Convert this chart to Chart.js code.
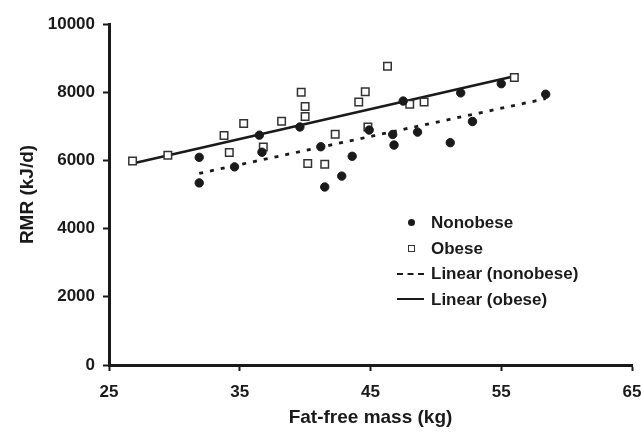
<!DOCTYPE html>
<html>
<head>
<meta charset="utf-8">
<script src="https://cdn.jsdelivr.net/npm/chart.js@4/dist/chart.umd.min.js"></script>
<style>
  html, body { margin: 0; padding: 0; background: #fff; }
  #wrap { position: relative; width: 641px; height: 432px; }
  #legend { position: absolute; left: 392px; top: 210px; font-family: "Liberation Sans", Arial, sans-serif; font-weight: bold; font-size: 17px; color: #1a1a1a; }
  .row { position: relative; height: 25.5px; line-height: 25.5px; padding-left: 39px; white-space: nowrap; }
  .mk { position: absolute; top: 50%; }
  .dot { left: 16px; width: 7px; height: 7px; margin-top: -3.5px; border-radius: 50%; background: #1a1a1a; }
  .sq { left: 16px; width: 5px; height: 5px; margin-top: -3.5px; border: 1.2px solid #333; background: #fff; }
  .dash { left: 5px; width: 27px; margin-top: -1px; border-top: 2.5px dashed #1a1a1a; }
  .solid { left: 5px; width: 27px; margin-top: -1px; border-top: 2.5px solid #1a1a1a; }
</style>
</head>
<body>
<div id="wrap">
  <canvas id="c" width="641" height="432"></canvas>
  <div id="legend">
    <div class="row"><span class="mk dot"></span>Nonobese</div>
    <div class="row"><span class="mk sq"></span>Obese</div>
    <div class="row"><span class="mk dash"></span>Linear (nonobese)</div>
    <div class="row"><span class="mk solid"></span>Linear (obese)</div>
  </div>
</div>
<script>
// Fat-free mass (kg) and RMR (kJ/d)
const nonobeseFFM = [31.9, 31.9, 34.6, 36.5, 36.7, 39.6, 41.2, 41.5, 42.8, 43.6, 44.9, 46.7, 46.8, 47.5, 48.6, 51.1, 51.9, 52.8, 55.0, 58.4];
const nonobeseRMR = [6090, 5340, 5810, 6740, 6240, 6980, 6400, 5220, 5540, 6120, 6890, 6760, 6450, 7740, 6830, 6520, 7980, 7140, 8250, 7940];
const obeseFFM = [26.8, 29.5, 33.8, 34.2, 35.3, 36.8, 38.2, 39.7, 40.0, 40.0, 40.2, 41.5, 42.3, 44.1, 44.6, 44.8, 46.3, 48.0, 49.1, 56.0];
const obeseRMR = [5980, 6150, 6730, 6230, 7080, 6390, 7150, 8000, 7580, 7290, 5910, 5890, 6770, 7710, 8010, 6980, 8760, 7650, 7710, 8430];
// Trend line end points
const trendNonobeseFFM = [31.9, 58.4];
const trendNonobeseRMR = [5620, 7810];
const trendObeseFFM = [26.8, 56.0];
const trendObeseRMR = [5910, 8470];
// Axis tick labels
const xTickLabels = [25, 35, 45, 55, 65];
const yTickLabels = [0, 2000, 4000, 6000, 8000, 10000];

const pts = (xs, ys) => xs.map((x, i) => ({ x: x, y: ys[i] }));
const INK = '#1a1a1a';
const FONT = "'Liberation Sans', Arial, sans-serif";

new Chart(document.getElementById('c'), {
  type: 'scatter',
  data: {
    datasets: [
      { label: 'Nonobese', data: pts(nonobeseFFM, nonobeseRMR), pointStyle: 'circle', pointRadius: 4.2, backgroundColor: INK, borderColor: INK, borderWidth: 1, order: 0 },
      { label: 'Obese', data: pts(obeseFFM, obeseRMR), pointStyle: 'rect', pointRadius: 5.3, backgroundColor: '#fff', borderColor: '#333', borderWidth: 1.5, order: 0 },
      { type: 'line', label: 'Linear (nonobese)', data: pts(trendNonobeseFFM, trendNonobeseRMR), showLine: true, borderColor: INK, borderWidth: 2.8, borderDash: [4, 7], pointRadius: 0, fill: false, order: 1 },
      { type: 'line', label: 'Linear (obese)', data: pts(trendObeseFFM, trendObeseRMR), showLine: true, borderColor: INK, borderWidth: 2.6, pointRadius: 0, fill: false, order: 1 }
    ]
  },
  options: {
    responsive: false,
    animation: false,
    layout: { padding: { left: 0, top: 24, right: 9, bottom: 0 } },
    plugins: { legend: { display: false }, tooltip: { enabled: false } },
    scales: {
      x: {
        type: 'linear',
        min: xTickLabels[0], max: xTickLabels[xTickLabels.length - 1],
        afterBuildTicks: s => { s.ticks = xTickLabels.map(v => ({ value: v })); },
        afterFit: s => { s.height = 67; s.paddingLeft = 0; s.paddingRight = 0; },
        border: { display: true, color: INK, width: 3 },
        grid: { display: true, drawOnChartArea: false, drawTicks: true, tickLength: 6, tickWidth: 2, color: INK },
        ticks: { color: INK, font: { family: FONT, weight: 'bold', size: 17 }, padding: 11, maxRotation: 0 },
        title: { display: true, text: 'Fat-free mass (kg)', color: INK, font: { family: FONT, weight: 'bold', size: 19 }, padding: { top: 0, bottom: 3 } }
      },
      y: {
        type: 'linear',
        min: yTickLabels[0], max: yTickLabels[yTickLabels.length - 1],
        afterBuildTicks: s => { s.ticks = yTickLabels.map(v => ({ value: v })); },
        afterFit: s => { s.width = 109; s.paddingTop = 0; s.paddingBottom = 0; },
        border: { display: true, color: INK, width: 3 },
        grid: { display: true, drawOnChartArea: false, drawTicks: true, tickLength: 6, tickWidth: 2, color: INK },
        ticks: { color: INK, font: { family: FONT, weight: 'bold', size: 17 }, padding: 8, callback: v => String(v) },
        title: { display: true, text: 'RMR (kJ/d)', color: INK, font: { family: FONT, weight: 'bold', size: 19 }, padding: { top: 16, bottom: 0 } }
      }
    }
  }
});
</script>
</body>
</html>
